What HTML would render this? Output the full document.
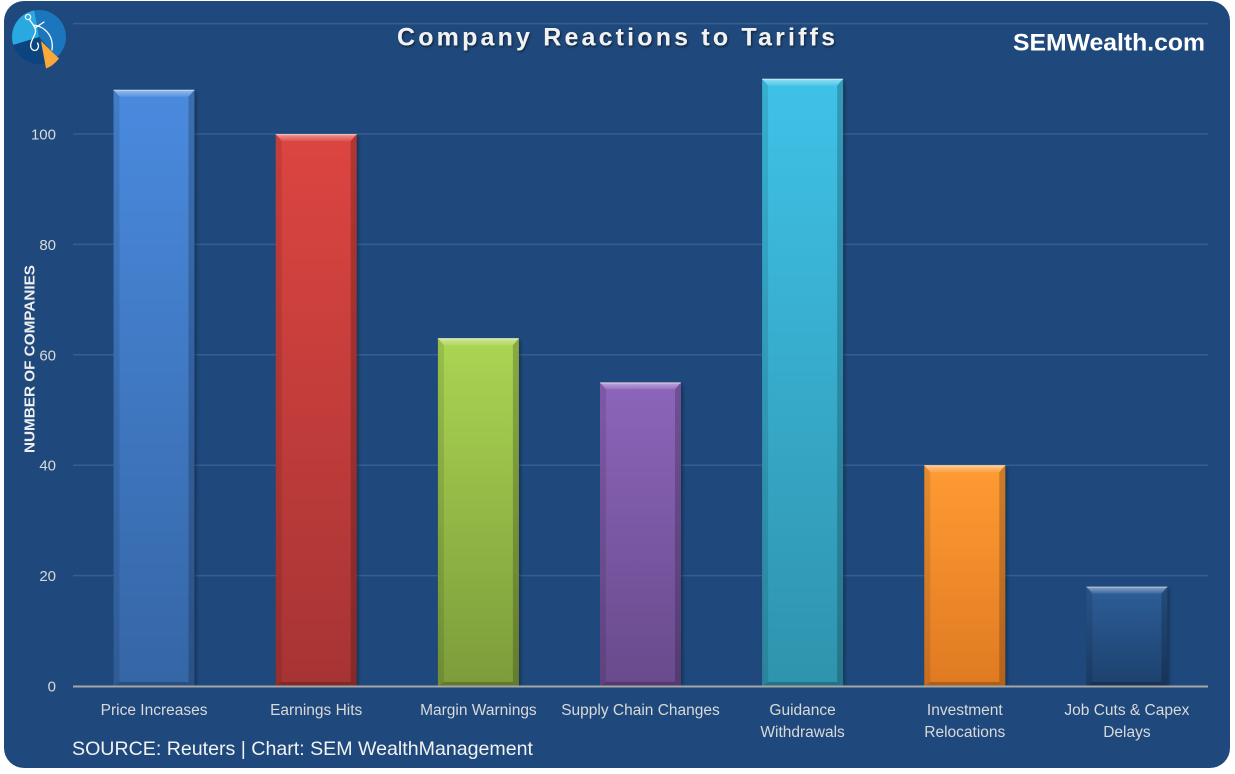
<!DOCTYPE html>
<html><head><meta charset="utf-8">
<style>
html,body{margin:0;padding:0;background:#ffffff;}
body{width:1235px;height:774px;overflow:hidden;}
svg{display:block;}
</style></head>
<body>
<svg width="1235" height="774" viewBox="0 0 1235 774" xmlns="http://www.w3.org/2000/svg">
<defs>
  <linearGradient id="g1" x1="0" y1="0" x2="0" y2="1"><stop offset="0" stop-color="#4a8ade"/><stop offset="1" stop-color="#3566a6"/></linearGradient>
  <linearGradient id="g2" x1="0" y1="0" x2="0" y2="1"><stop offset="0" stop-color="#dd4541"/><stop offset="1" stop-color="#a63434"/></linearGradient>
  <linearGradient id="g3" x1="0" y1="0" x2="0" y2="1"><stop offset="0" stop-color="#abd553"/><stop offset="1" stop-color="#7c9c3a"/></linearGradient>
  <linearGradient id="g4" x1="0" y1="0" x2="0" y2="1"><stop offset="0" stop-color="#8c65ba"/><stop offset="1" stop-color="#694a8c"/></linearGradient>
  <linearGradient id="g5" x1="0" y1="0" x2="0" y2="1"><stop offset="0" stop-color="#3fc2e8"/><stop offset="1" stop-color="#2f93ad"/></linearGradient>
  <linearGradient id="g6" x1="0" y1="0" x2="0" y2="1"><stop offset="0" stop-color="#ff9b33"/><stop offset="1" stop-color="#df7a22"/></linearGradient>
  <linearGradient id="g7" x1="0" y1="0" x2="0" y2="1"><stop offset="0" stop-color="#2d5e99"/><stop offset="1" stop-color="#1d416d"/></linearGradient>
  <linearGradient id="topb" x1="0" y1="0" x2="0" y2="1"><stop offset="0" stop-color="#ffffff" stop-opacity="0.45"/><stop offset="1" stop-color="#ffffff" stop-opacity="0.08"/></linearGradient>
  <filter id="blur" x="-20%" y="-20%" width="140%" height="140%"><feGaussianBlur stdDeviation="1.6"/></filter>
  <filter id="tsh" x="-5%" y="-30%" width="110%" height="160%"><feDropShadow dx="1" dy="1.5" stdDeviation="1.2" flood-color="#000" flood-opacity="0.55"/></filter>
</defs>

<!-- card -->
<rect x="4" y="1" width="1226" height="767" rx="20" ry="20" fill="#1f497c"/>

<!-- gridlines -->
<g stroke="#365e8f" stroke-width="1.5">
  <line x1="73" y1="23.6" x2="1208" y2="23.6"/>
  <line x1="73" y1="134" x2="1208" y2="134"/>
  <line x1="73" y1="244.4" x2="1208" y2="244.4"/>
  <line x1="73" y1="354.8" x2="1208" y2="354.8"/>
  <line x1="73" y1="465.2" x2="1208" y2="465.2"/>
  <line x1="73" y1="575.6" x2="1208" y2="575.6"/>
</g>

<!-- logo -->
<g>
  <path d="M39,37 L34.31,10.41 A27,27 0 0 1 57.07,57.06 Z" fill="#1b76bd"/>
  <path d="M39,37 L45.07,63.31 A27,27 0 0 1 13.18,44.89 Z" fill="#0c447f"/>
  <path d="M39,37 L13.18,44.89 A27,27 0 0 1 34.31,10.41 Z" fill="#2aa9e0"/>
  <path d="M41,41 L59,58.5 Q53,66 46,68.5 Z" fill="#f9a83a"/>
  <g fill="none" stroke="#ffffff" stroke-width="1.3" stroke-linecap="round">
    <circle cx="28" cy="17" r="2.6"/>
    <path d="M29.5,19.5 C33,25 37,28 35,34 C32,40 28,47 33,50 C37,52 40,47 37.5,43"/>
    <path d="M33,25 C44,26 54,35 52,50"/>
    <path d="M35,28 L44,22"/>
  </g>
</g>

<!-- title -->
<text x="616" y="45.5" text-anchor="middle" font-family="Liberation Sans, sans-serif" font-weight="bold" font-size="25" fill="#f2f2f2" textLength="438" lengthAdjust="spacing" filter="url(#tsh)">Company Reactions to Tariffs</text>
<text x="1109" y="50.5" text-anchor="middle" font-family="Liberation Sans, sans-serif" font-weight="bold" font-size="24" fill="#ffffff" textLength="192" lengthAdjust="spacingAndGlyphs">SEMWealth.com</text>

<!-- y tick labels -->
<g font-family="Liberation Sans, sans-serif" font-size="15" fill="#d9d9d9" text-anchor="end">
  <text x="56" y="139.5">100</text>
  <text x="56" y="249.9">80</text>
  <text x="56" y="360.3">60</text>
  <text x="56" y="470.7">40</text>
  <text x="56" y="581.1">20</text>
  <text x="56" y="691.5">0</text>
</g>

<!-- y axis title -->
<text transform="translate(34.5,359) rotate(-90)" text-anchor="middle" font-family="Liberation Sans, sans-serif" font-weight="bold" font-size="14.5" fill="#eeeeee" textLength="188" lengthAdjust="spacingAndGlyphs">NUMBER OF COMPANIES</text>

<!-- bars -->
<!-- 1 Price Increases -->
<g transform="translate(113.5,89.8)">
  <rect x="2" y="2" width="81" height="594.2" fill="#000" opacity="0.3" filter="url(#blur)"/>
  <rect x="0" y="0" width="81" height="596.2" fill="url(#g1)"/>
  <polygon points="0,0 81,0 75,7 6,7" fill="url(#topb)"/>
  <polygon points="0,0 6,7 6,592.2 0,596.2" fill="#000" opacity="0.1"/>
  <polygon points="81,0 75,7 75,592.2 81,596.2" fill="#000" opacity="0.2"/>
  <polygon points="0,596.2 6,592.2 75,592.2 81,596.2" fill="#000" opacity="0.22"/>
  <line x1="0" y1="0.6" x2="81" y2="0.6" stroke="#ffffff" stroke-opacity="0.35" stroke-width="1.2"/>
</g>
<!-- 2 Earnings Hits -->
<g transform="translate(275.7,134)">
  <rect x="2" y="2" width="81" height="550" fill="#000" opacity="0.3" filter="url(#blur)"/>
  <rect x="0" y="0" width="81" height="552" fill="url(#g2)"/>
  <polygon points="0,0 81,0 75,7 6,7" fill="url(#topb)"/>
  <polygon points="0,0 6,7 6,548 0,552" fill="#000" opacity="0.1"/>
  <polygon points="81,0 75,7 75,548 81,552" fill="#000" opacity="0.2"/>
  <polygon points="0,552 6,548 75,548 81,552" fill="#000" opacity="0.22"/>
  <line x1="0" y1="0.6" x2="81" y2="0.6" stroke="#ffffff" stroke-opacity="0.35" stroke-width="1.2"/>
</g>
<!-- 3 Margin Warnings -->
<g transform="translate(437.9,338.2)">
  <rect x="2" y="2" width="81" height="345.8" fill="#000" opacity="0.3" filter="url(#blur)"/>
  <rect x="0" y="0" width="81" height="347.8" fill="url(#g3)"/>
  <polygon points="0,0 81,0 75,7 6,7" fill="url(#topb)"/>
  <polygon points="0,0 6,7 6,343.8 0,347.8" fill="#000" opacity="0.1"/>
  <polygon points="81,0 75,7 75,343.8 81,347.8" fill="#000" opacity="0.2"/>
  <polygon points="0,347.8 6,343.8 75,343.8 81,347.8" fill="#000" opacity="0.22"/>
  <line x1="0" y1="0.6" x2="81" y2="0.6" stroke="#ffffff" stroke-opacity="0.35" stroke-width="1.2"/>
</g>
<!-- 4 Supply Chain Changes -->
<g transform="translate(600,382.4)">
  <rect x="2" y="2" width="81" height="301.6" fill="#000" opacity="0.3" filter="url(#blur)"/>
  <rect x="0" y="0" width="81" height="303.6" fill="url(#g4)"/>
  <polygon points="0,0 81,0 75,7 6,7" fill="url(#topb)"/>
  <polygon points="0,0 6,7 6,299.6 0,303.6" fill="#000" opacity="0.1"/>
  <polygon points="81,0 75,7 75,299.6 81,303.6" fill="#000" opacity="0.2"/>
  <polygon points="0,303.6 6,299.6 75,299.6 81,303.6" fill="#000" opacity="0.22"/>
  <line x1="0" y1="0.6" x2="81" y2="0.6" stroke="#ffffff" stroke-opacity="0.35" stroke-width="1.2"/>
</g>
<!-- 5 Guidance Withdrawals -->
<g transform="translate(762.1,78.8)">
  <rect x="2" y="2" width="81" height="605.2" fill="#000" opacity="0.3" filter="url(#blur)"/>
  <rect x="0" y="0" width="81" height="607.2" fill="url(#g5)"/>
  <polygon points="0,0 81,0 75,7 6,7" fill="url(#topb)"/>
  <polygon points="0,0 6,7 6,603.2 0,607.2" fill="#000" opacity="0.1"/>
  <polygon points="81,0 75,7 75,603.2 81,607.2" fill="#000" opacity="0.2"/>
  <polygon points="0,607.2 6,603.2 75,603.2 81,607.2" fill="#000" opacity="0.22"/>
  <line x1="0" y1="0.6" x2="81" y2="0.6" stroke="#ffffff" stroke-opacity="0.35" stroke-width="1.2"/>
</g>
<!-- 6 Investment Relocations -->
<g transform="translate(924.3,465.2)">
  <rect x="2" y="2" width="81" height="218.8" fill="#000" opacity="0.3" filter="url(#blur)"/>
  <rect x="0" y="0" width="81" height="220.8" fill="url(#g6)"/>
  <polygon points="0,0 81,0 75,7 6,7" fill="url(#topb)"/>
  <polygon points="0,0 6,7 6,216.8 0,220.8" fill="#000" opacity="0.1"/>
  <polygon points="81,0 75,7 75,216.8 81,220.8" fill="#000" opacity="0.2"/>
  <polygon points="0,220.8 6,216.8 75,216.8 81,220.8" fill="#000" opacity="0.22"/>
  <line x1="0" y1="0.6" x2="81" y2="0.6" stroke="#ffffff" stroke-opacity="0.35" stroke-width="1.2"/>
</g>
<!-- 7 Job Cuts -->
<g transform="translate(1086.4,586.6)">
  <rect x="2" y="2" width="81" height="97.4" fill="#000" opacity="0.3" filter="url(#blur)"/>
  <rect x="0" y="0" width="81" height="99.4" fill="url(#g7)"/>
  <polygon points="0,0 81,0 75,7 6,7" fill="url(#topb)"/>
  <polygon points="0,0 6,7 6,95.4 0,99.4" fill="#000" opacity="0.1"/>
  <polygon points="81,0 75,7 75,95.4 81,99.4" fill="#000" opacity="0.2"/>
  <polygon points="0,99.4 6,95.4 75,95.4 81,99.4" fill="#000" opacity="0.22"/>
  <line x1="0" y1="0.6" x2="81" y2="0.6" stroke="#ffffff" stroke-opacity="0.35" stroke-width="1.2"/>
</g>

<!-- x axis line -->
<line x1="73" y1="686.5" x2="1208" y2="686.5" stroke="#a6a6a6" stroke-width="2"/>

<!-- x labels -->
<g font-family="Liberation Sans, sans-serif" font-size="15.5" fill="#d9d9d9" text-anchor="middle">
  <text x="154.1" y="715">Price Increases</text>
  <text x="316.2" y="715">Earnings Hits</text>
  <text x="478.4" y="715">Margin Warnings</text>
  <text x="640.5" y="715">Supply Chain Changes</text>
  <text x="802.6" y="715">Guidance</text>
  <text x="802.6" y="737">Withdrawals</text>
  <text x="964.8" y="715">Investment</text>
  <text x="964.8" y="737">Relocations</text>
  <text x="1126.9" y="715">Job Cuts &amp; Capex</text>
  <text x="1126.9" y="737">Delays</text>
</g>

<!-- source -->
<text x="72" y="755" font-family="Liberation Sans, sans-serif" font-size="19.5" fill="#f2f2f2" textLength="461" lengthAdjust="spacingAndGlyphs">SOURCE: Reuters | Chart: SEM WealthManagement</text>
</svg>
</body></html>
